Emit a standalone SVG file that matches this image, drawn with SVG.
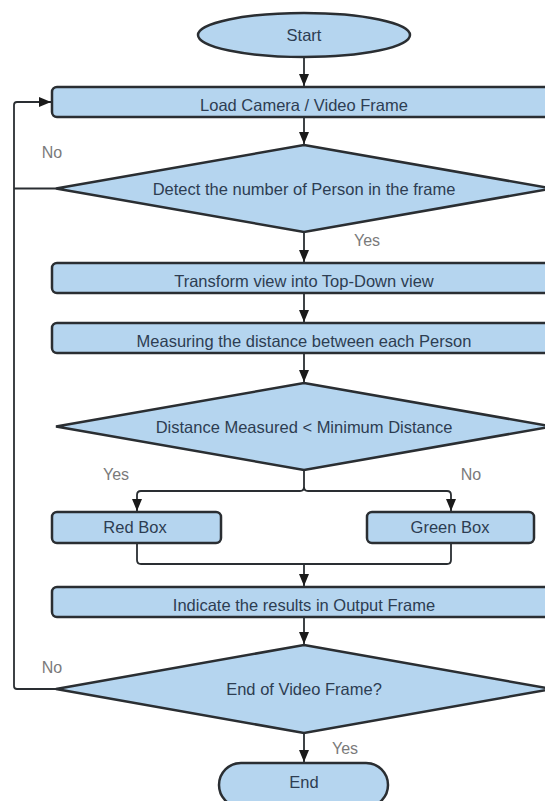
<svg xmlns="http://www.w3.org/2000/svg" width="545" height="801" viewBox="0 0 545 801">
<style>
.s{fill:#b5d5ef;stroke:#2a2e32;stroke-width:2.5}
.t{font-family:"Liberation Sans",Arial,sans-serif;font-size:16.5px;fill:#2d3d52;text-anchor:middle}
.l{font-family:"Liberation Sans",Arial,sans-serif;font-size:16px;fill:#7a7a7a;text-anchor:middle}
.c{fill:none;stroke:#2a2e32;stroke-width:1.8}
</style>
<defs>
<marker id="a" viewBox="0 0 12 10" refX="12" refY="5" markerWidth="12" markerHeight="10" markerUnits="userSpaceOnUse" orient="auto">
<path d="M0,0 L12,5 L0,10 z" fill="#1a1a1a"/>
</marker>
</defs>
<rect width="545" height="801" fill="#ffffff"/>
<g id="connectors">
<path class="c" d="M304,57 V86" marker-end="url(#a)"/>
<path class="c" d="M304,117 V144" marker-end="url(#a)"/>
<path class="c" d="M304,232 V262" marker-end="url(#a)"/>
<path class="c" d="M304,293 V322" marker-end="url(#a)"/>
<path class="c" d="M304,353 V382" marker-end="url(#a)"/>
<path class="c" d="M304,470 V487 Q304,491 300,491 H141 Q137,491 137,495 V511" marker-end="url(#a)"/>
<path class="c" d="M304,487 Q304,491 308,491 H447 Q451,491 451,495 V511" marker-end="url(#a)"/>
<path class="c" d="M137,543 V560 Q137,564 141,564 H447 Q451,564 451,560 V543"/>
<path class="c" d="M304,564 V586" marker-end="url(#a)"/>
<path class="c" d="M304,617 V644" marker-end="url(#a)"/>
<path class="c" d="M304,733 V762" marker-end="url(#a)"/>
<path class="c" d="M56,689 H17 Q14,689 14,686 V105 Q14,102 17,102 H51" marker-end="url(#a)"/>
<path class="c" d="M56,188.5 H14"/>
</g>
<g id="start"><ellipse class="s" cx="304" cy="35" rx="106" ry="22"/><text class="t" x="304" y="41">Start</text></g>
<g id="load"><rect class="s" x="52" y="87" width="520" height="30" rx="5"/><text class="t" x="304" y="111">Load Camera / Video Frame</text></g>
<g id="detect"><polygon class="s" points="304,145 552,188.5 304,232 56,188.5"/><text class="t" x="304" y="195">Detect the number of Person in the frame</text></g>
<g id="transform"><rect class="s" x="52" y="263" width="520" height="30" rx="5"/><text class="t" x="304" y="287">Transform view into Top-Down view</text></g>
<g id="measure"><rect class="s" x="52" y="323" width="520" height="30" rx="5"/><text class="t" x="304" y="347">Measuring the distance between each Person</text></g>
<g id="distance"><polygon class="s" points="304,383 552,426.5 304,470 56,426.5"/><text class="t" x="304" y="433">Distance Measured &lt; Minimum Distance</text></g>
<g id="redbox"><rect class="s" x="52" y="512" width="169" height="31" rx="5"/><text class="t" x="135" y="533">Red Box</text></g>
<g id="greenbox"><rect class="s" x="367" y="512" width="167" height="31" rx="5"/><text class="t" x="450" y="533">Green Box</text></g>
<g id="indicate"><rect class="s" x="52" y="587" width="520" height="30" rx="5"/><text class="t" x="304" y="611">Indicate the results in Output Frame</text></g>
<g id="endq"><polygon class="s" points="304,645 552,689 304,733 56,689"/><text class="t" x="304" y="695">End of Video Frame?</text></g>
<g id="end"><rect class="s" x="219" y="763" width="169" height="44" rx="22"/><text class="t" x="304" y="788">End</text></g>
<g id="labels">
<text class="l" x="52" y="158">No</text>
<text class="l" x="367" y="246">Yes</text>
<text class="l" x="116" y="480">Yes</text>
<text class="l" x="471" y="480">No</text>
<text class="l" x="52" y="673">No</text>
<text class="l" x="345" y="754">Yes</text>
</g>
</svg>
